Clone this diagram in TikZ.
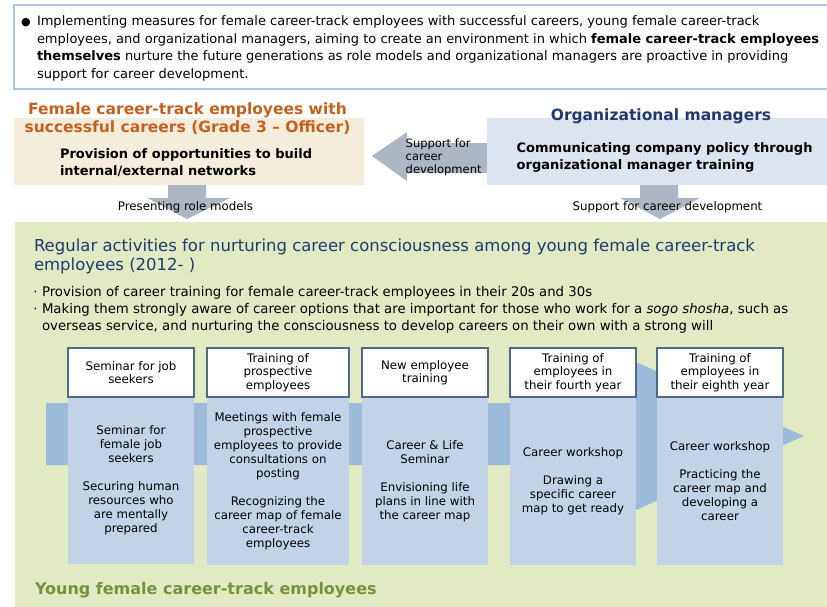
\documentclass[tikz,border=0pt]{standalone}
\usepackage{fontspec}
\setmainfont{DejaVu Sans}
\usetikzlibrary{calc}

\definecolor{introline}{HTML}{AFC3E2}
\definecolor{beige}{HTML}{F5EDDB}
\definecolor{mgrblue}{HTML}{DCE4F0}
\definecolor{arrowgray}{HTML}{ADB7C4}
\definecolor{bggreen}{HTML}{E2EAC4}
\definecolor{orangetitle}{HTML}{C5601E}
\definecolor{navy}{HTML}{1F3A6E}
\definecolor{leafgreen}{HTML}{76923C}
\definecolor{bandblue}{HTML}{9DBBDB}
\definecolor{colblue}{HTML}{C2D3E8}
\definecolor{hdrline}{HTML}{50698A}

% multi-line labels are placed by the baseline of their last line
\tikzset{
  lbl/.style={inner sep=0pt, outer sep=0pt},
  blockarrow/.style={fill=arrowgray, draw=none},
  hdr/.style={draw=hdrline, line width=1.1pt, fill=white, inner sep=0pt,
    minimum height=49pt, align=center, font=\fontsize{11.8}{13.4}\selectfont},
  colbody/.style={fill=colblue, inner sep=0pt, minimum height=168pt,
    align=center, font=\fontsize{11.8}{14}\selectfont},
}

\begin{document}
\begin{tikzpicture}[x=1pt,y=-1pt]
\useasboundingbox (0,0) rectangle (827,606);

% ---- introduction panel ----
\draw[introline, line width=1.3pt, fill=white] (14,5) rectangle (835,89);
\node[lbl, anchor=base] (dot) at (26,25.5) {\fontsize{11}{11}\selectfont ●};
\node[lbl, anchor=base west, align=left, font=\fontsize{13}{17.6}\selectfont] (intro) at (37,78.3)
  {Implementing measures for female career-track employees with successful careers, young female career-track\\
   employees, and organizational managers, aiming to create an environment in which \textbf{female career-track employees}\\
   \textbf{themselves} nurture the future generations as role models and organizational managers are proactive in providing\\
   support for career development.};

% ---- arrows between the upper panels ----
\fill[blockarrow] (372,156) -- (407,132) -- (407,143) -- (488,143) -- (488,173)
  -- (407,173) -- (407,181) -- cycle;
\fill[blockarrow] (168,185) -- (206,185) -- (206,198) -- (230,198) -- (187,219)
  -- (147,198) -- (168,198) -- cycle;
\fill[blockarrow] (640,185) -- (678,185) -- (678,198) -- (700,198) -- (660,219)
  -- (620,198) -- (640,198) -- cycle;

% ---- senior employees panel ----
\fill[beige] (14,118) rectangle (364,185);
\node[lbl, anchor=base, align=center, text=orangetitle,
  font=\fontsize{15.5}{18}\selectfont\bfseries] (senior) at (187.5,132)
  {Female career-track employees with\\successful careers (Grade 3 -- Officer)};
\node[lbl, anchor=base west, align=left, font=\fontsize{13}{17}\selectfont\bfseries] (network) at (60,175.3)
  {Provision of opportunities to build\\internal/external networks};

% ---- managers panel ----
\fill[mgrblue] (487,118) rectangle (835,185);
\node[lbl, anchor=base, text=navy, font=\fontsize{15.5}{18}\selectfont\bfseries] (managers) at (661,120)
  {Organizational managers};
\node[lbl, anchor=base west, align=left, font=\fontsize{13}{16.6}\selectfont\bfseries] (policy) at (516.7,169.3)
  {Communicating company policy through\\organizational manager training};

\node[lbl, anchor=base west, align=left, font=\fontsize{11.5}{12.8}\selectfont] (support1) at (405.7,173.3)
  {Support for\\career\\development};
\node[lbl, anchor=base, font=\fontsize{11.8}{14}\selectfont] (rolemodels) at (185.5,210)
  {Presenting role models};
\node[lbl, anchor=base west, font=\fontsize{11.8}{14}\selectfont] (support2) at (572.7,210)
  {Support for career development};

% ---- young employees panel ----
\fill[bggreen] (15,222) rectangle (835,610);
\node[lbl, anchor=base west, align=left, text=navy, font=\fontsize{16.5}{19}\selectfont] (regular) at (34,270.5)
  {Regular activities for nurturing career consciousness among young female career-track\\employees (2012- )};
\node[lbl, anchor=base] (b1dot) at (35.5,296.5) {\fontsize{13}{13}\selectfont ·};
\node[lbl, anchor=base] (b2dot) at (35.5,313.5) {\fontsize{13}{13}\selectfont ·};
\node[lbl, anchor=base west, align=left, font=\fontsize{13.3}{17}\selectfont] (bullets) at (42,330.5)
  {Provision of career training for female career-track employees in their 20s and 30s\\
   Making them strongly aware of career options that are important for those who work for a \textit{sogo shosha}, such as\\
   overseas service, and nurturing the consciousness to develop careers on their own with a strong will};

% timeline arrow behind the columns
\fill[bandblue] (46,403) -- (636,403) -- (636,362) -- (804,436) -- (636,510)
  -- (636,465) -- (46,465) -- cycle;

% columns: body first, header on top
\node[colbody, minimum width=126pt] (b1) at (131,480)
  {Seminar for\\female job\\seekers\\[14pt]Securing human\\resources who\\are mentally\\prepared};
\node[colbody, minimum width=142pt] (b2) at (278,481)
  {Meetings with female\\prospective\\employees to provide\\consultations on\\posting\\[14pt]Recognizing the\\career map of female\\career-track\\employees};
\node[colbody, minimum width=126pt] (b3) at (425,481)
  {Career \& Life\\Seminar\\[14pt]Envisioning life\\plans in line with\\the career map};
\node[colbody, minimum width=126pt] (b4) at (573,481)
  {Career workshop\\[14pt]Drawing a\\specific career\\map to get ready};
\node[colbody, minimum width=126pt] (b5) at (720,481)
  {Career workshop\\[14pt]Practicing the\\career map and\\developing a\\career};

\node[hdr, minimum width=126pt] (h1) at (131,372.5) {Seminar for job\\seekers};
\node[hdr, minimum width=142pt] (h2) at (278,372.5) {Training of\\prospective\\employees};
\node[hdr, minimum width=126pt] (h3) at (425,372.5) {New employee\\training};
\node[hdr, minimum width=126pt] (h4) at (573,372.5) {Training of\\employees in\\their fourth year};
\node[hdr, minimum width=126pt] (h5) at (720,372.5) {Training of\\employees in\\their eighth year};

\node[lbl, anchor=base west, text=leafgreen, font=\fontsize{16}{18}\selectfont\bfseries] (young) at (35,594)
  {Young female career-track employees};
\end{tikzpicture}
\end{document}
